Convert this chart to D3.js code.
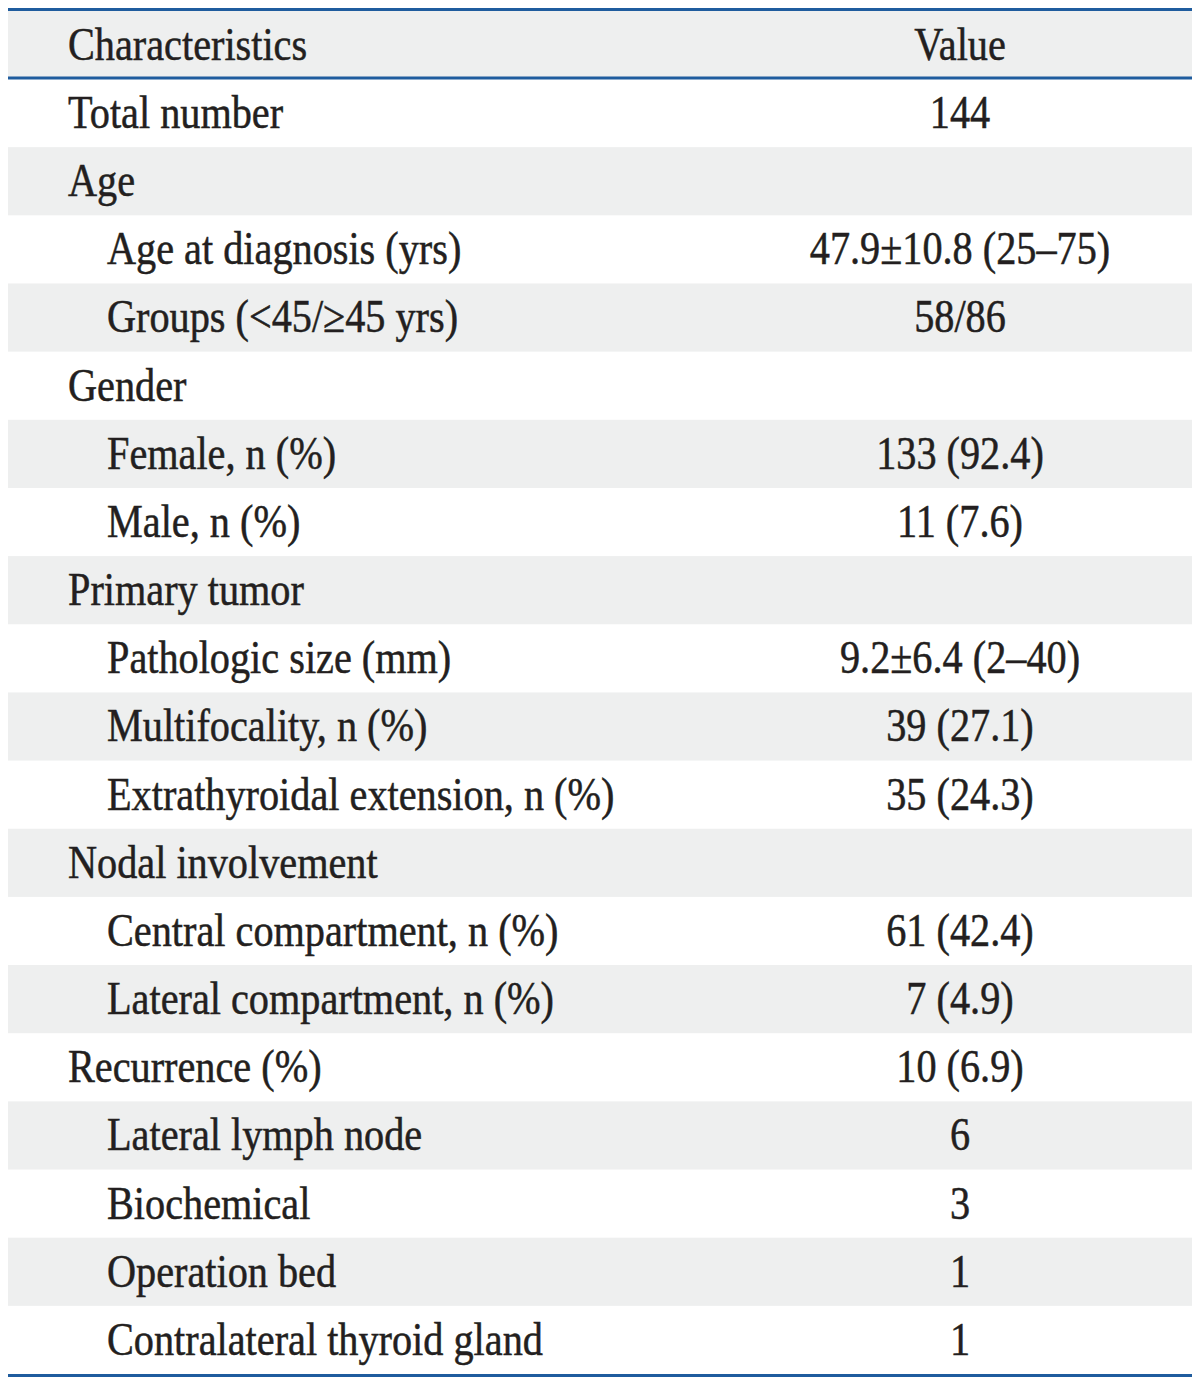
<!DOCTYPE html>
<html><head><meta charset="utf-8">
<script src="https://cdn.jsdelivr.net/npm/d3@7"></script>
<style>html,body{margin:0;padding:0;background:#fff;}</style>
</head><body>
<script>
const headers = ["Characteristics", "Value"];
const characteristics = ["Total number","Age","Age at diagnosis (yrs)","Groups (<45/\u226545 yrs)","Gender","Female, n (%)","Male, n (%)","Primary tumor","Pathologic size (mm)","Multifocality, n (%)","Extrathyroidal extension, n (%)","Nodal involvement","Central compartment, n (%)","Lateral compartment, n (%)","Recurrence (%)","Lateral lymph node","Biochemical","Operation bed","Contralateral thyroid gland"];
const values = ["144","","47.9\u00b110.8 (25\u201375)","58/86","","133 (92.4)","11 (7.6)","","9.2\u00b16.4 (2\u201340)","39 (27.1)","35 (24.3)","","61 (42.4)","7 (4.9)","10 (6.9)","6","3","1","1"];
const levels = [0,0,1,1,0,1,1,0,1,1,1,0,1,1,0,1,1,1,1];

const W = 1200, H = 1384;
const left = 8, right = 1192;
const headTop = 11, headBottom = 77, bodyTop = 79, bodyBottom = 1374;
const grey = "#eeefef", blue = "#1f5c9e", ink = "#231f20";
const fs = 46, sx = 0.875;

const svg = d3.select("body").append("svg").attr("width", W).attr("height", H);

const y = d3.scaleBand().domain(d3.range(characteristics.length)).range([bodyTop, bodyBottom]).padding(0);
const xIndent = d3.scaleOrdinal().domain([0,1]).range([68, 107]);
const valueX = 960;

// header background
svg.append("rect").attr("x", left).attr("y", headTop).attr("width", right-left).attr("height", headBottom-headTop).attr("fill", grey);

// striped rows
svg.selectAll("rect.row").data(d3.range(characteristics.length).filter(i => i % 2 === 1))
  .join("rect").attr("class","row")
  .attr("x", left).attr("y", i => y(i)).attr("width", right-left).attr("height", y.bandwidth()).attr("fill", grey);

function txt(g, x, yy, s, anchor) {
  g.append("text")
    .attr("transform", `translate(${x},${yy}) scale(${sx},1)`)
    .attr("text-anchor", anchor)
    .attr("font-family", "'Liberation Serif','Times New Roman',serif")
    .attr("font-size", fs).attr("fill", ink)
    .attr("stroke", ink).attr("stroke-width", 0.5)
    .text(s);
}

txt(svg, 68, headTop + 49, headers[0], "start");
txt(svg, valueX, headTop + 49, headers[1], "middle");

characteristics.forEach((c, i) => {
  txt(svg, xIndent(levels[i]), y(i) + 49, c, "start");
  if (values[i]) txt(svg, valueX, y(i) + 49, values[i], "middle");
});

// rules
[[9.5,3],[78,3],[1375.5,3]].forEach(([yy, w]) => {
  svg.append("line").attr("x1", left).attr("x2", right).attr("y1", yy).attr("y2", yy)
    .attr("stroke", blue).attr("stroke-width", w);
});
</script>
</body></html>
